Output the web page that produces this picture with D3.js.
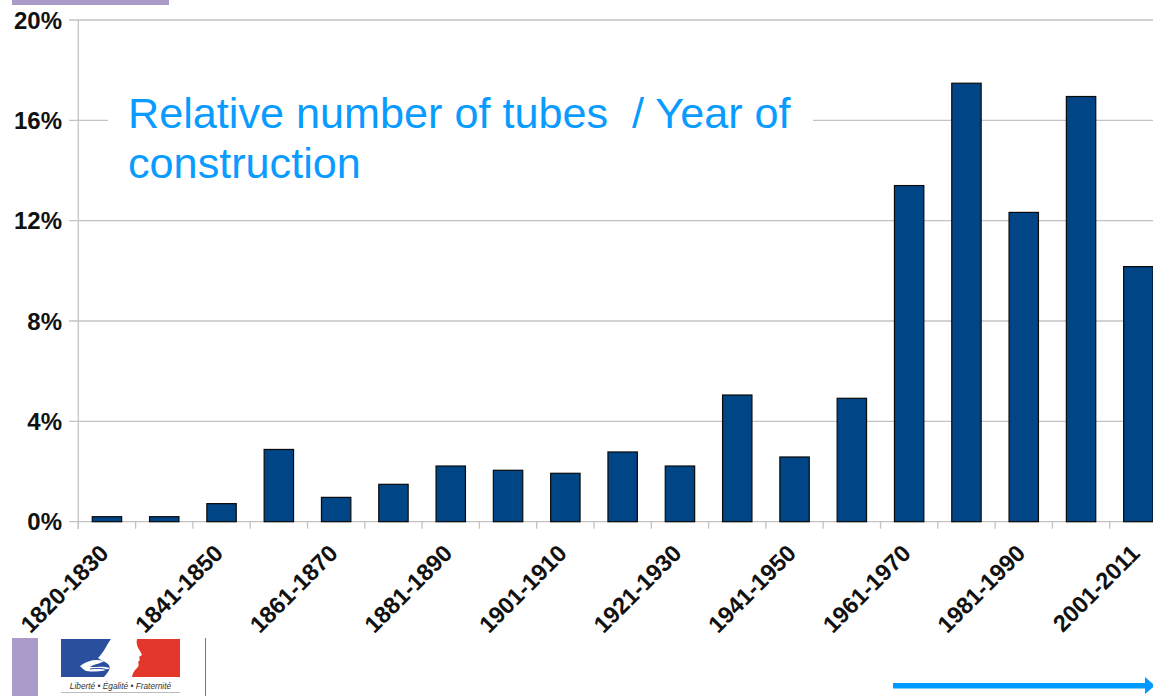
<!DOCTYPE html>
<html>
<head>
<meta charset="utf-8">
<script src="https://cdn.jsdelivr.net/npm/d3@7/dist/d3.min.js"></script>
<style>
  html, body { margin: 0; padding: 0; background: #fff; }
  svg { display: block; }
  text { font-family: "Liberation Sans", Arial, sans-serif; }
</style>
</head>
<body>
<svg id="chart" width="1153" height="696"></svg>
<script>
// Decades of construction
const decades = [
  "1820-1830", "1831-1840", "1841-1850", "1851-1860", "1861-1870",
  "1871-1880", "1881-1890", "1891-1900", "1901-1910", "1911-1920",
  "1921-1930", "1931-1940", "1941-1950", "1951-1960", "1961-1970",
  "1971-1980", "1981-1990", "1991-2000", "2001-2011"
];
// Share of tubes built in each decade (%)
const shares = [
  0.2, 0.2, 0.72, 2.88, 0.97,
  1.49, 2.22, 2.05, 1.93, 2.78,
  2.22, 5.05, 2.58, 4.92, 13.4,
  17.48, 12.33, 16.95, 10.17
];
// Labelled decades on the category axis (every other one)
const shownLabels = [
  "1820-1830", "1841-1850", "1861-1870", "1881-1890", "1901-1910",
  "1921-1930", "1941-1950", "1961-1970", "1981-1990", "2001-2011"
];
const yTicks = [0, 4, 8, 12, 16, 20];
const titleLines = ["Relative number of tubes  / Year of", "construction"];

const svg = d3.select("#chart");
const W = 1153;

const plotLeft = 78.3, plotBottom = 521.7, plotTop = 20;
const step = 57.3;

const x = d3.scaleBand()
  .domain(decades)
  .range([plotLeft, plotLeft + step * decades.length])
  .paddingInner(0.487)
  .paddingOuter(0.2435);

const y = d3.scaleLinear().domain([0, 20]).range([plotBottom, plotTop]);

// Slide decoration (purple strip at the top)
svg.append("rect").attr("x", 12).attr("y", 0).attr("width", 157).attr("height", 5)
  .attr("fill", "#ab9bc8");

// Horizontal gridlines with left tick stubs
const grid = svg.append("g");
grid.selectAll("line").data(yTicks).join("line")
  .attr("x1", 69).attr("x2", W)
  .attr("y1", d => y(d)).attr("y2", d => y(d))
  .attr("stroke", "#c3c3c3").attr("stroke-width", 1.3);

// Vertical axis line
svg.append("line")
  .attr("x1", plotLeft).attr("x2", plotLeft)
  .attr("y1", plotTop).attr("y2", plotBottom + 7)
  .attr("stroke", "#c3c3c3").attr("stroke-width", 1.3);

// Y tick labels
svg.append("g").selectAll("text").data(yTicks).join("text")
  .attr("x", 62).attr("y", d => y(d)).attr("dy", "0.36em")
  .attr("text-anchor", "end")
  .attr("font-size", 24).attr("font-weight", "bold").attr("fill", "#111")
  .text(d => d + "%");

// Category tick marks at band boundaries
const bounds = d3.range(decades.length + 1).map(i => plotLeft + i * x.step());
svg.append("g").selectAll("line").data(bounds).join("line")
  .attr("x1", d => d).attr("x2", d => d)
  .attr("y1", plotBottom).attr("y2", plotBottom + 7)
  .attr("stroke", "#c3c3c3").attr("stroke-width", 1.3);

// Bars
svg.append("g").selectAll("rect").data(decades).join("rect")
  .attr("x", d => x(d))
  .attr("y", (d, i) => y(shares[i]))
  .attr("width", x.bandwidth())
  .attr("height", (d, i) => y(0) - y(shares[i]))
  .attr("fill", "#004586")
  .attr("stroke", "#0a0a0a").attr("stroke-width", 1.2);

// Rotated category labels
svg.append("g").selectAll("text").data(shownLabels).join("text")
  .attr("transform", d => `translate(${x(d) + x.bandwidth() / 2 + 3},${plotBottom + 33}) rotate(-45)`)
  .attr("text-anchor", "end")
  .attr("font-size", 23.5).attr("font-weight", "bold").attr("fill", "#111")
  .text(d => d);

// Title on a white panel
svg.append("rect").attr("x", 108).attr("y", 88).attr("width", 705).attr("height", 104)
  .attr("fill", "#fff");
svg.append("g").selectAll("text").data(titleLines).join("text")
  .attr("x", 128).attr("y", (d, i) => 128.3 + i * 50)
  .attr("font-size", 43.2).attr("fill", "#0a9bff")
  .style("white-space", "pre")
  .text(d => d);

// Footer: purple strip, emblem, separator and arrow
svg.append("rect").attr("x", 12).attr("y", 638).attr("width", 26).attr("height", 58)
  .attr("fill", "#ab9bc8");

const logo = svg.append("g");
logo.append("rect").attr("x", 61).attr("y", 639).attr("width", 66).attr("height", 38).attr("fill", "#2a4f9e");
logo.append("rect").attr("x", 127).attr("y", 639).attr("width", 53).attr("height", 38).attr("fill", "#e4372b");
// White profile between blue and red
logo.append("path")
  .attr("d", "M111,639 L137,639 C136,643 137,647 140,651 L142,655 L139,657 C140,659 140,661 138,662 C139,664 139,666 137,668 C135,670 133,672 132,677 L104,677 C108,672 112,668 108,664 C104,661 100,660 98,658 C104,652 106,646 111,639 Z")
  .attr("fill", "#fff");
// Hands / scarf waves inside the blue field
logo.append("path")
  .attr("d", "M80,666 C88,660 96,659 104,661 C100,664 94,664 90,667 C96,667 104,666 110,668 C104,672 95,672 86,671 C84,670 82,668 80,666 Z")
  .attr("fill", "#fff");
logo.append("path")
  .attr("d", "M90,669 C96,668 102,668 108,670")
  .attr("stroke", "#2a4f9e").attr("stroke-width", 1).attr("fill", "none");
logo.append("text").attr("x", 120.5).attr("y", 688.5).attr("text-anchor", "middle")
  .attr("font-family", "'Liberation Serif', 'DejaVu Serif', serif")
  .attr("font-style", "italic").attr("font-size", 8.3).attr("fill", "#333")
  .text("Liberté • Égalité • Fraternité");
logo.append("line").attr("x1", 61).attr("x2", 180).attr("y1", 692.5).attr("y2", 692.5)
  .attr("stroke", "#bbb").attr("stroke-width", 1);

svg.append("line").attr("x1", 205.5).attr("x2", 205.5).attr("y1", 638).attr("y2", 696)
  .attr("stroke", "#777").attr("stroke-width", 1);

// Arrow bottom right
svg.append("line").attr("x1", 893).attr("x2", 1146).attr("y1", 685.7).attr("y2", 685.7)
  .attr("stroke", "#0099ff").attr("stroke-width", 5.5);
svg.append("path").attr("d", "M1145,677 L1155,685.7 L1145,694 Z").attr("fill", "#0099ff");
</script>
</body>
</html>
